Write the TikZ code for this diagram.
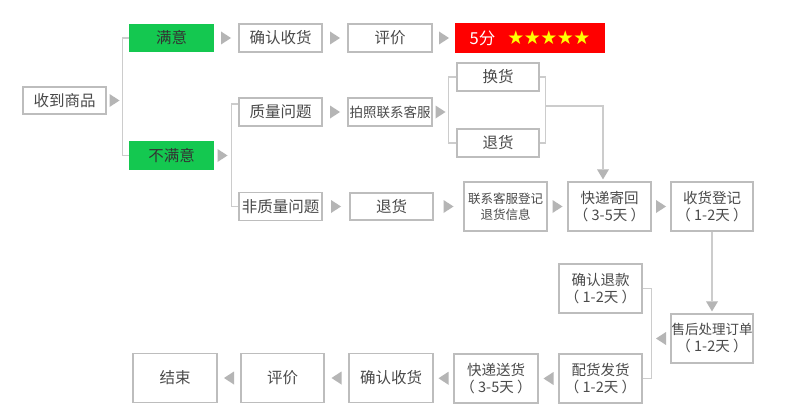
\documentclass[tikz,border=0pt]{standalone}
\usepackage{fontspec}
\setmainfont{Noto Sans CJK SC}
\newfontfamily\symfont{DejaVu Sans}
\usetikzlibrary{calc}
\definecolor{boxc}{HTML}{BDBDBD}
\definecolor{lnc}{HTML}{CCCCCC}
\definecolor{arrc}{HTML}{B5B5B5}
\definecolor{txt}{HTML}{4A4A4A}
\definecolor{okgreen}{HTML}{14C850}
\definecolor{starred}{HTML}{FF0000}
\definecolor{staryel}{HTML}{FFFF00}
\tikzset{
  box/.style={draw=boxc, line width=1.3pt, fill=white, minimum width=83pt,
    minimum height=28pt, inner sep=0pt, text=txt, align=center,
    font=\fontsize{15.5}{17}\selectfont},
  tall/.style={box, minimum height=49pt, font=\fontsize{14.5}{17}\selectfont},
  gbox/.style={box, draw=okgreen, fill=okgreen, minimum height=27pt, text=black!80},
  rbox/.style={box, draw=starred, fill=starred, minimum width=148pt, text=white},
  ln/.style={draw=lnc, line width=1.4pt},
}
\newcommand\arrR[2]{\path ($(#1)!.5!(#2)$) coordinate (tmpa);
  \fill[arrc] ($(tmpa)+(-5,-6.5)$) -- ++(10,6.5) -- ++(-10,6.5) -- cycle;}
\newcommand\arrL[2]{\path ($(#1)!.5!(#2)$) coordinate (tmpa);
  \fill[arrc] ($(tmpa)+(5,-6.5)$) -- ++(-10,6.5) -- ++(10,6.5) -- cycle;}
\newcommand\arrD[1]{\fill[arrc] (#1) -- ++(-6,-10) -- ++(12,0) -- cycle;}
\begin{document}
\begin{tikzpicture}[x=1pt,y=-1pt]
\useasboundingbox[fill=white] (0,0) rectangle (790,420);
% nodes
\node[box, minimum height=27pt] (recv) at (64.5,100.5) {收到商品};
\node[gbox] (sat) at (171.5,38) {满意};
\node[gbox] (unsat) at (171.5,155.5) {不满意};
\node[box] (conf1) at (280.5,38) {确认收货};
\node[box, minimum width=84pt] (rate1) at (390,38) {评价};
\node[rbox, font=\fontsize{16.5}{17}\selectfont] (five) at (530,38) {5分\hspace{12pt}{\symfont\fontsize{19}{19}\selectfont\color{staryel}★\kern-0.5pt★\kern-0.5pt★\kern-0.5pt★\kern-0.5pt★}};
\node[box] (qual) at (280.5,112) {质量问题};
\node[box] (nqual) at (280.5,206.5) {非质量问题};
\node[box, minimum width=84pt, font=\fontsize{13.5}{15}\selectfont] (photo) at (390,112) {拍照联系客服};
\node[box, minimum height=27pt] (ret1) at (391.5,206.5) {退货};
\node[box, minimum width=82pt] (exch) at (498,77) {换货};
\node[box, minimum width=82pt] (ret2) at (498,143) {退货};
\node[tall, font=\fontsize{12.5}{16}\selectfont] (contact) at (505.5,206.5) {联系客服登记\\退货信息};
\node[tall] (ship1) at (609.5,206.5) {快递寄回\\（ 3-5天 ）};
\node[tall, minimum width=82pt] (reg) at (712,206.5) {收货登记\\（ 1-2天 ）};
\node[tall, minimum width=82pt, font=\fontsize{13.5}{17}\selectfont] (after) at (712,338.5) {售后处理订单\\{\fontsize{14.5}{17}\selectfont（ 1-2天 ）}};
\node[tall] (refund) at (600.5,288.5) {确认退款\\（ 1-2天 ）};
\node[tall] (dist) at (600.5,378.5) {配货发货\\（ 1-2天 ）};
\node[tall, minimum width=84pt] (ship2) at (496,378.5) {快递送货\\（ 3-5天 ）};
\node[tall, minimum width=84pt, font=\fontsize{15.5}{17}\selectfont] (conf2) at (391,378) {确认收货};
\node[tall, font=\fontsize{15.5}{17}\selectfont] (rate2) at (282.5,378) {评价};
\node[tall, minimum width=84pt, font=\fontsize{15.5}{17}\selectfont] (end) at (175,378) {结束};
% brackets
\draw[ln] (sat.west) -- ++(-7,0) coordinate (b1t) |- (unsat.west);
\draw[ln] ($(qual.west)+(0,-8)$) -- ++(-7,0) coordinate (b2t) |- (nqual.west);
\draw[ln] (exch.west) -- ++(-8,0) coordinate (b3t) |- (ret2.west);
\draw[ln] (exch.east) -- ++(6,0) coordinate (b4t) |- (ret2.east);
\draw[ln] ($(b4t)+(0,29)$) -| ($(ship1.north)+(-6.5,-12)$);
\arrD{$(ship1.north)+(-6.5,-2)$}
\draw[ln] (reg.south) -- ($(after.north)+(0,-12)$);
\arrD{$(after.north)+(0,-2)$}
\draw[ln] (refund.east) -- ++(9,0) coordinate (b6t) |- (dist.east);
% arrows
\arrR{recv.east}{b1t |- recv.east}
\arrR{sat.east}{conf1.west}
\arrR{conf1.east}{rate1.west}
\arrR{rate1.east}{five.west}
\arrR{unsat.east}{b2t |- unsat.east}
\arrR{qual.east}{photo.west}
\arrR{photo.east}{b3t |- photo.east}
\arrR{nqual.east}{ret1.west}
\arrR{ret1.east}{contact.west}
\arrR{contact.east}{ship1.west}
\arrR{ship1.east}{reg.west}
\arrL{after.west}{b6t |- after.west}
\arrL{dist.west}{ship2.east}
\arrL{ship2.west}{conf2.east}
\arrL{conf2.west}{rate2.east}
\arrL{rate2.west}{end.east}
\end{tikzpicture}
\end{document}
